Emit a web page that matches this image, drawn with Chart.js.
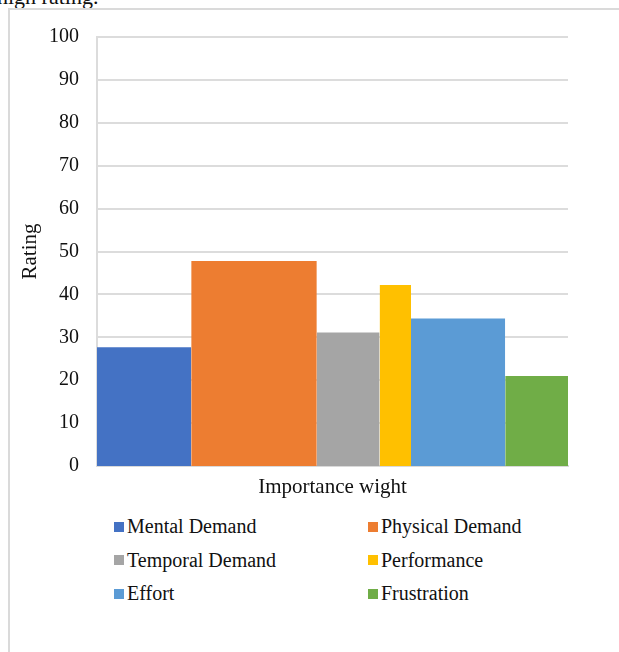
<!DOCTYPE html>
<html>
<head>
<meta charset="utf-8">
<script src="https://cdn.jsdelivr.net/npm/chart.js@4"></script>
<style>
  body { margin: 0; background: #fff; width: 619px; height: 652px; overflow: hidden; position: relative; font-family: 'Liberation Serif', serif; }
  #above { position: absolute; left: -3px; top: -14px; font-size: 22px; line-height: 22px; color: #111; white-space: nowrap; }
  #frame { position: absolute; left: 8px; top: 8px; width: 700px; height: 700px; border-left: 2px solid #dadada; border-top: 2px solid #dadada; }
  #chart { position: absolute; left: 0; top: 0; }
  #legend { position: absolute; left: 114px; top: 510px; display: grid; grid-template-columns: 254px 200px; grid-auto-rows: 33.5px; }
  .item { display: flex; align-items: center; font-size: 20px; color: #111; white-space: nowrap; }
  .box { width: 10px; height: 10px; margin-right: 3px; }
</style>
</head>
<body>
<div id="above">high rating.</div>
<div id="frame"></div>
<canvas id="chart" width="619" height="500"></canvas>
<div id="legend"></div>
<script>
  //chart values
  const categories = ['Mental Demand', 'Physical Demand', 'Temporal Demand', 'Performance', 'Effort', 'Frustration'];
  const weights = [3, 4, 2, 1, 3, 2];
  const ratings = [27.7, 47.8, 31.1, 42.2, 34.4, 21.0];
  const colors = ['#4472C4', '#ED7D31', '#A5A5A5', '#FFC000', '#5B9BD5', '#70AD47'];
  const xTitle = 'Importance wight';
  const yTitle = 'Rating';

  //each bar is as wide as its weight, so build them as filled steps on a linear x axis
  var datasets = [];
  var start = 0;
  categories.forEach((c, i) => {
    datasets.push({
      label: c,
      data: [{x: start, y: ratings[i]}, {x: start + weights[i], y: ratings[i]}],
      backgroundColor: colors[i],
      borderColor: 'rgba(0,0,0,0)',
      borderWidth: 0,
      pointRadius: 0,
      fill: 'origin',
    });
    start += weights[i];
  });

  var font = {family: 'Liberation Serif', size: 20};
  var titleFont = {family: 'Liberation Serif', size: 21};

  var scales = {
    x: {
      type: 'linear',
      min: 0,
      max: start,
      ticks: {display: false},
      grid: {display: false},
      border: {display: true, color: '#d9d9d9', width: 2},
      title: {display: true, text: xTitle, color: '#111', font: titleFont, padding: {top: 6, bottom: 0}},
      afterFit: (axis) => { axis.width; axis.height = 34; }
    },
    y: {
      min: 0,
      max: 100,
      ticks: {stepSize: 10, color: '#111', font: font, padding: 18},
      grid: {color: '#dcdcdc', lineWidth: 2, drawTicks: false},
      border: {display: true, color: '#dcdcdc', width: 2},
      title: {display: true, text: yTitle, color: '#111', font: titleFont, padding: {top: 8, bottom: 0}},
      afterFit: (axis) => { axis.width = 87; }
    }
  };

  var options = {
    responsive: false,
    animation: false,
    layout: {padding: {left: 10, top: 37, right: 51, bottom: 0}},
    plugins: {
      legend: {display: false},
      tooltip: {enabled: false}
    },
    scales: scales
  };

  new Chart(document.getElementById('chart'), {
    type: 'line',
    data: {datasets: datasets},
    options: options
  });

  //legend in two columns like the original
  var legend = document.getElementById('legend');
  categories.forEach((c, i) => {
    var item = document.createElement('div');
    item.className = 'item';
    var box = document.createElement('span');
    box.className = 'box';
    box.style.background = colors[i];
    item.appendChild(box);
    item.appendChild(document.createTextNode(c));
    legend.appendChild(item);
  });
</script>
</body>
</html>
